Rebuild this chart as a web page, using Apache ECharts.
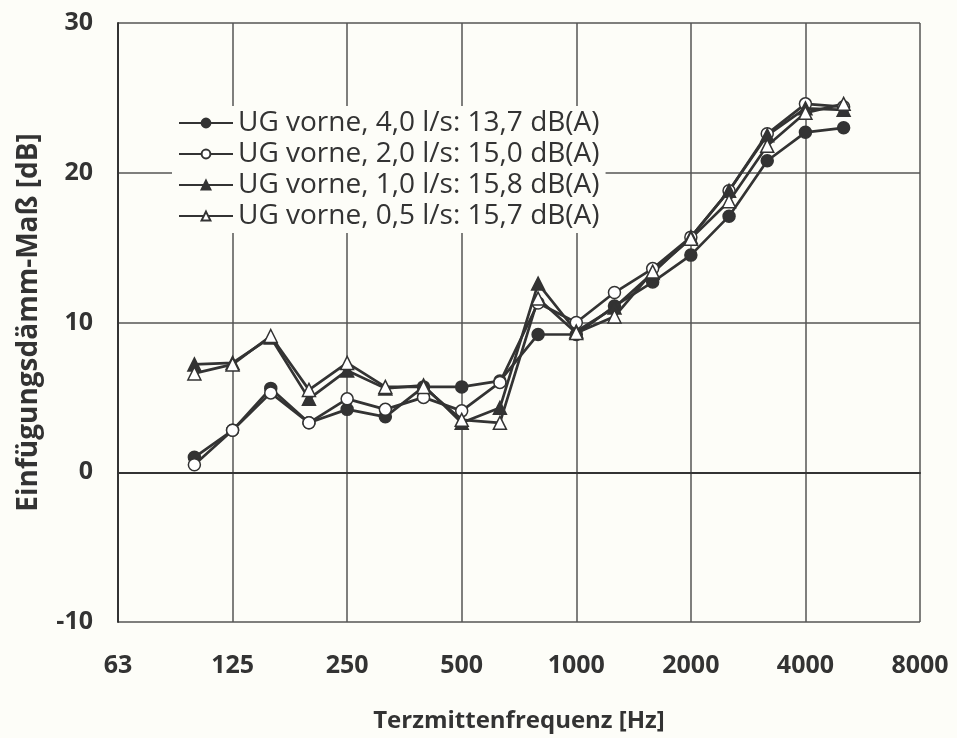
<html lang="de">
<head>
    <meta charset="UTF-8">
    <title>Einfügungsdämm-Maß</title>
    <script src="https://cdn.jsdelivr.net/npm/echarts@6.0.0/dist/echarts.min.js"></script>
</head>
<body style="margin:0;background:#fdfdf8;">
    <div id="main" style="width: 957px;height:738px;"></div>
    <script type="text/javascript">
        // Terzbänder 63 Hz ... 8000 Hz (nur jede dritte beschriftet)
        var bands = ['63', '80', '100', '125', '160', '200', '250', '315', '400', '500', '630',
                     '800', '1000', '1250', '1600', '2000', '2500', '3150', '4000', '5000', '6300', '8000'];

        // Messwerte ab 100 Hz bis 5000 Hz, 63/80 und 6300/8000 leer
        var ug40 = [null, null, 1.0, 2.8, 5.6, 3.3, 4.2, 3.7, 5.7, 5.7, 6.1,
                    9.2, 9.2, 11.1, 12.7, 14.5, 17.1, 20.8, 22.7, 23.0, null, null];
        var ug20 = [null, null, 0.5, 2.8, 5.3, 3.3, 4.9, 4.2, 5.0, 4.1, 6.0,
                    11.3, 10.0, 12.0, 13.6, 15.7, 18.8, 22.6, 24.6, 24.4, null, null];
        var ug10 = [null, null, 7.2, 7.3, 9.0, 4.9, 6.8, 5.6, 5.8, 3.3, 4.3,
                    12.6, 9.4, 11.0, 13.3, 15.7, 18.8, 22.5, 24.3, 24.2, null, null];
        var ug05 = [null, null, 6.6, 7.2, 9.1, 5.5, 7.3, 5.7, 5.7, 3.5, 3.3,
                    11.6, 9.3, 10.4, 13.4, 15.6, 18.1, 21.8, 24.0, 24.6, null, null];

        var names = ['UG vorne, 4,0 l/s: 13,7 dB(A)', 'UG vorne, 2,0 l/s: 15,0 dB(A)',
                     'UG vorne, 1,0 l/s: 15,8 dB(A)', 'UG vorne, 0,5 l/s: 15,7 dB(A)'];

        var ink = '#333333';
        var paper = '#fdfdf8';

        function mkSeries(name, data, symbol, filled) {
            return {
                name: name,
                type: 'line',
                data: data,
                symbol: symbol,
                symbolSize: symbol === 'triangle' ? 13 : 12,
                showSymbol: true,
                connectNulls: false,
                lineStyle: { color: ink, width: 2.7 },
                itemStyle: { color: filled ? ink : '#ffffff', borderColor: ink, borderWidth: 1.5 }
            };
        }

        var myChart = echarts.init(document.getElementById('main'));
        var option = {
            backgroundColor: paper,
            animation: false,
            textStyle: { fontFamily: 'Open Sans', color: ink },
            grid: { left: 118, right: 37, top: 23, bottom: 116 },
            legend: {
                orient: 'vertical',
                left: 172,
                top: 106,
                backgroundColor: paper,
                padding: [3, 6, 3, 6],
                itemWidth: 54,
                itemHeight: 11,
                itemGap: 3,
                textStyle: { fontSize: 28, color: ink, fontFamily: 'Open Sans' },
                data: names
            },
            xAxis: {
                type: 'category',
                data: bands,
                boundaryGap: false,
                name: 'Terzmittenfrequenz [Hz]',
                nameLocation: 'middle',
                nameGap: 87,
                nameTextStyle: { fontSize: 24, fontWeight: 'bold', color: ink },
                axisLine: { lineStyle: { color: ink, width: 2 } },
                axisTick: { show: false },
                axisLabel: { interval: 2, fontSize: 25, fontWeight: 'bold', color: ink, margin: 31 },
                splitLine: { show: true, interval: 2, lineStyle: { color: '#555', width: 1.5 } }
            },
            yAxis: {
                type: 'value',
                min: -10,
                max: 30,
                interval: 10,
                name: 'Einfügungsdämm-Maß [dB]',
                nameLocation: 'middle',
                nameGap: 75,
                nameTextStyle: { fontSize: 28, fontWeight: 'bold', color: ink },
                axisLine: { show: true, lineStyle: { color: ink, width: 2 } },
                axisTick: { show: false },
                axisLabel: { fontSize: 25, fontWeight: 'bold', color: ink, margin: 25 },
                splitLine: { show: true, lineStyle: { color: '#555', width: 1.5 } }
            },
            series: [
                mkSeries(names[0], ug40, 'circle', true),
                mkSeries(names[1], ug20, 'circle', false),
                mkSeries(names[2], ug10, 'triangle', true),
                mkSeries(names[3], ug05, 'triangle', false)
            ]
        };
        myChart.setOption(option);
    </script>
</body>
</html>
